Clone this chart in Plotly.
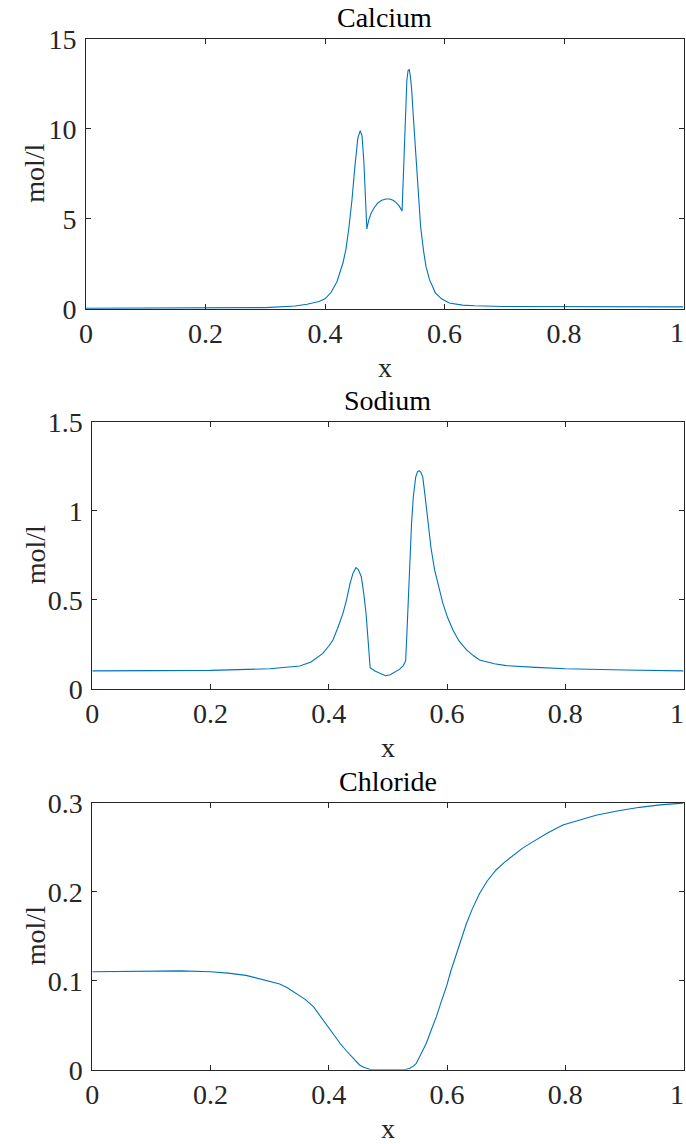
import plotly.graph_objects as go

# ---------------- data ----------------
ca_x = [0.0, 0.1, 0.2, 0.3, 0.35, 0.37, 0.39, 0.40, 0.41, 0.42, 0.43, 0.435, 0.44, 0.445, 0.45,
        0.455, 0.459, 0.462, 0.465, 0.468, 0.470, 0.473, 0.477, 0.482, 0.488, 0.495, 0.502, 0.508,
        0.514, 0.519, 0.524, 0.529, 0.531, 0.533, 0.535, 0.537, 0.539, 0.541, 0.543, 0.545, 0.548,
        0.552, 0.556, 0.560, 0.565, 0.569, 0.575, 0.585, 0.595, 0.608, 0.63, 0.65, 0.7, 0.8, 1.0]
ca_y = [0.02, 0.02, 0.03, 0.06, 0.15, 0.25, 0.4, 0.55, 0.9, 1.5, 2.54, 3.3, 4.5, 6.0, 7.9,
        9.5, 9.9, 9.6, 8.2, 6.0, 4.44, 4.9, 5.3, 5.6, 5.87, 6.03, 6.1, 6.1,
        6.03, 5.9, 5.72, 5.44, 7.5, 9.4, 11.2, 12.7, 13.25, 13.3, 12.9, 12.2, 10.6,
        8.46, 6.4, 4.57, 3.2, 2.35, 1.6, 0.87, 0.55, 0.32, 0.2, 0.16, 0.12, 0.1, 0.1]

na_x = [0.0, 0.1, 0.2, 0.3, 0.33, 0.351, 0.37, 0.39, 0.40, 0.407, 0.415, 0.424, 0.43, 0.436, 0.441,
        0.446, 0.450, 0.455, 0.459, 0.463, 0.467, 0.470, 0.478, 0.486, 0.496, 0.504, 0.512, 0.52,
        0.526, 0.530, 0.532, 0.534, 0.537, 0.540, 0.543, 0.547, 0.550, 0.553, 0.556, 0.559, 0.563,
        0.568, 0.573, 0.579, 0.586, 0.593, 0.601, 0.610, 0.62, 0.633, 0.645, 0.655, 0.68, 0.7,
        0.75, 0.8, 0.9, 1.0]
na_y = [0.1, 0.1, 0.103, 0.112, 0.12, 0.128, 0.15, 0.199, 0.24, 0.274, 0.34, 0.424, 0.5, 0.593, 0.65,
        0.681, 0.67, 0.63, 0.54, 0.424, 0.25, 0.118, 0.1, 0.087, 0.073, 0.078, 0.092, 0.11,
        0.13, 0.156, 0.3, 0.461, 0.7, 0.93, 1.08, 1.19, 1.22, 1.226, 1.215, 1.19, 1.08,
        0.93, 0.79, 0.668, 0.565, 0.48, 0.4, 0.33, 0.27, 0.218, 0.185, 0.161, 0.14, 0.13,
        0.12, 0.112, 0.105, 0.1]

cl_x = [0.0, 0.1, 0.15, 0.2, 0.23, 0.26, 0.29, 0.317, 0.33, 0.345, 0.36, 0.374, 0.388, 0.402, 0.419,
        0.43, 0.438, 0.445, 0.452, 0.458, 0.464, 0.47, 0.48, 0.5, 0.52, 0.53, 0.537, 0.543, 0.548,
        0.556, 0.565, 0.573, 0.582, 0.59, 0.599, 0.607, 0.616, 0.624, 0.633, 0.643, 0.655, 0.668,
        0.683, 0.697, 0.712, 0.728, 0.745, 0.77, 0.796, 0.825, 0.852, 0.89, 0.926, 0.96, 1.0]
cl_y = [0.110, 0.111, 0.111, 0.110, 0.1085, 0.106, 0.101, 0.0963, 0.092, 0.0858, 0.079, 0.0708, 0.058,
        0.0446, 0.0297, 0.021, 0.0154, 0.01, 0.0053, 0.003, 0.0016, 0.0003, 0.0, 0.0, 0.0, 0.0003,
        0.0016, 0.004, 0.007, 0.017, 0.0297, 0.044, 0.0596, 0.076, 0.0933, 0.112, 0.131, 0.148,
        0.1645, 0.181, 0.198, 0.212, 0.2244, 0.233, 0.2412, 0.249, 0.256, 0.266, 0.275, 0.281,
        0.286, 0.291, 0.2948, 0.2975, 0.2995]

titles = ["Calcium", "Sodium", "Chloride"]
x_ticks = [0, 0.2, 0.4, 0.6, 0.8, 1]
x_ticktext = ["0", "0.2", "0.4", "0.6", "0.8", "1"]
y_ticks = [[0, 5, 10, 15], [0, 0.5, 1, 1.5], [0, 0.1, 0.2, 0.3]]
y_ticktext = [["0", "5", "10", "15"], ["0", "0.5", "1", "1.5"], ["0", "0.1", "0.2", "0.3"]]
y_ranges = [[0, 15], [0, 1.5], [0, 0.3]]
ylabel = "mol/l"
xlabel = "x"

# ---------------- layout geometry (pixels, page coords) ----------------
W, H = 686, 1144
panels = [  # left, right, top, bottom
    (86, 683.5, 39, 308.7),
    (92.3, 683.5, 422, 688.7),
    (92.3, 683.5, 802.7, 1069.7),
]

def px(v):
    return v / W

def py(v):
    return 1 - v / H

FONT = "Liberation Serif"
FS = 28
LINE = "#0072BD"
AX = "#262626"

fig = go.Figure()
series = [(ca_x, ca_y), (na_x, na_y), (cl_x, cl_y)]
annotations = []
for i, ((xs, ys), (l, r, t, b)) in enumerate(zip(series, panels)):
    n = "" if i == 0 else str(i + 1)
    fig.add_trace(go.Scatter(x=xs, y=ys, mode="lines", line=dict(color=LINE, width=1.1),
                             xaxis="x" + n, yaxis="y" + n, showlegend=False, hoverinfo="skip"))
    common = dict(showline=True, linecolor=AX, linewidth=1, mirror="ticks", ticks="inside",
                  ticklen=5, tickcolor=AX, tickwidth=1, showgrid=False, zeroline=False,
                  automargin=False, ticklabeloverflow="allow",
                  tickfont=dict(family=FONT, size=FS, color=AX))
    # last x tick label is drawn as an annotation, right-aligned so it stays inside the page
    shown_text = x_ticktext[:-1] + [""]
    fig.update_layout(**{
        "xaxis" + n: dict(domain=[px(l), px(r)], range=[0, 1], anchor="y" + n,
                          tickvals=x_ticks, ticktext=shown_text, ticklabelstandoff=0, **common),
        "yaxis" + n: dict(domain=[py(b), py(t)], range=y_ranges[i], anchor="x" + n,
                          tickvals=y_ticks[i], ticktext=y_ticktext[i], ticklabelstandoff=3, **common),
    })
    annotations.append(dict(text=x_ticktext[-1], x=x_ticks[-1], xref="x" + n, y=py(b + 24.3),
                            yref="paper", xanchor="right", yanchor="middle", xshift=2.5,
                            showarrow=False, font=dict(family=FONT, size=FS, color=AX)))
    cx = px((l + r) / 2)
    annotations.append(dict(text=titles[i], x=cx, y=py(t), xref="paper", yref="paper",
                            xanchor="center", yanchor="bottom", yshift=4, showarrow=False,
                            font=dict(family=FONT, size=FS, color="black")))
    annotations.append(dict(text=xlabel, x=cx, y=py(b + 59), xref="paper", yref="paper",
                            xanchor="center", yanchor="middle", showarrow=False,
                            font=dict(family=FONT, size=FS, color=AX)))
    annotations.append(dict(text=ylabel, x=px(35), y=py((t + b) / 2), xref="paper", yref="paper",
                            xanchor="center", yanchor="middle", textangle=-90, showarrow=False,
                            font=dict(family=FONT, size=FS, color=AX)))

fig.update_layout(width=W, height=H, margin=dict(l=0, r=0, t=0, b=0),
                  paper_bgcolor="white", plot_bgcolor="white", annotations=annotations)

fig.write_html("out.html", config={"displayModeBar": False},
               post_script="document.body.style.margin='0px';"
                           "document.documentElement.style.overflow='hidden';")
